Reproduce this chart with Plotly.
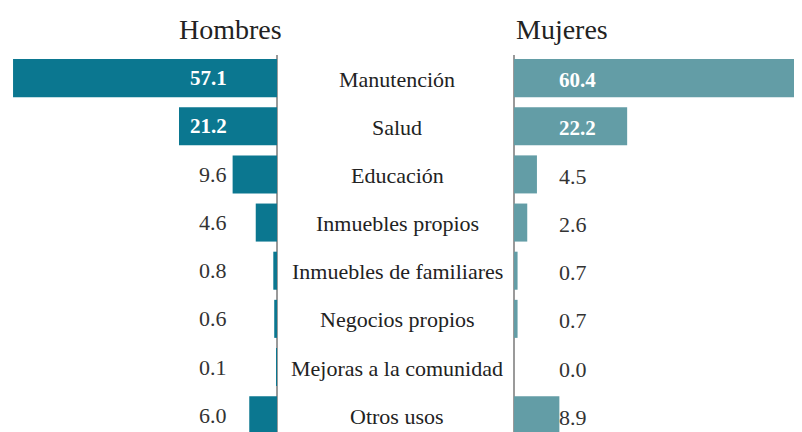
import plotly.graph_objects as go

# datos
categorias = ["Manutención", "Salud", "Educación", "Inmuebles propios",
              "Inmuebles de familiares", "Negocios propios",
              "Mejoras a la comunidad", "Otros usos"]
hombres = [57.1, 21.2, 9.6, 4.6, 0.8, 0.6, 0.1, 6.0]
mujeres = [60.4, 22.2, 4.5, 2.6, 0.7, 0.7, 0.0, 8.9]

COLOR_H = "#0B7790"
COLOR_M = "#639DA6"
FONT = "Liberation Serif, DejaVu Serif, serif"
OFF = 8  # page margin around the plot div
W, H = 802 - OFF, 432 - OFF
TOP = 55 - OFF


def px_x(p):
    # screenshot pixel -> paper x
    return (p - OFF) / W


def px_y(p):
    # screenshot pixel from top -> paper y
    return (H - (p - OFF)) / (H - TOP)


fig = go.Figure()

fig.add_trace(go.Bar(
    x=hombres, y=categorias, orientation="h",
    marker=dict(color=COLOR_H, line=dict(width=0)),
    width=0.79, xaxis="x", yaxis="y", hoverinfo="x+y", name="Hombres"
))
fig.add_trace(go.Bar(
    x=mujeres, y=categorias, orientation="h",
    marker=dict(color=COLOR_M, line=dict(width=0)),
    width=0.79, xaxis="x2", yaxis="y", hoverinfo="x+y", name="Mujeres"
))

annotations = []
# column titles
for titulo, cx in [("Hombres", 230), ("Mujeres", 562)]:
    annotations.append(dict(text=titulo, x=px_x(cx), y=px_y(29), xref="paper", yref="paper",
                            xanchor="center", yanchor="middle", showarrow=False,
                            font=dict(family=FONT, size=28, color="#222")))

for cat, h, m in zip(categorias, hombres, mujeres):
    # category label in the middle
    annotations.append(dict(text=cat, x=px_x(397), y=cat, xref="paper", yref="y",
                            xanchor="center", yanchor="middle", yshift=-1, showarrow=False,
                            font=dict(family=FONT, size=22, color="#222")))
    # left values
    inside = h > 15
    annotations.append(dict(
        text=f"<b>{h:.1f}</b>" if inside else f"{h:.1f}",
        x=px_x(229), y=cat, xref="paper", yref="y", xanchor="right", yanchor="middle",
        showarrow=False,
        font=dict(family=FONT, size=22 if not inside else 21, color="white" if inside else "#333")))
    # right values
    inside = m > 15
    annotations.append(dict(
        text=f"<b>{m:.1f}</b>" if inside else f"{m:.1f}",
        x=px_x(557), y=cat, xref="paper", yref="y", xanchor="left", yanchor="middle",
        yshift=-2, showarrow=False,
        font=dict(family=FONT, size=22 if not inside else 21, color="white" if inside else "#333")))

fig.update_layout(
    width=W, height=H,
    margin=dict(l=0, r=0, t=TOP, b=0, pad=0),
    paper_bgcolor="white", plot_bgcolor="white",
    showlegend=False,
    barmode="overlay",
    annotations=annotations,
    xaxis=dict(domain=[0, px_x(277)], range=[58.19, 0], showgrid=False, showticklabels=False,
               ticks="", zeroline=True, zerolinecolor="#9a9a9a", zerolinewidth=2, fixedrange=True),
    xaxis2=dict(domain=[px_x(514), 1], range=[0, 56.5], showgrid=False, showticklabels=False,
                ticks="", zeroline=True, zerolinecolor="#9a9a9a", zerolinewidth=2, fixedrange=True),
    yaxis=dict(range=[7.35, -0.48], showgrid=False, showticklabels=False, ticks="",
               zeroline=False, showline=False, fixedrange=True),
)

fig.write_html("out.html")
